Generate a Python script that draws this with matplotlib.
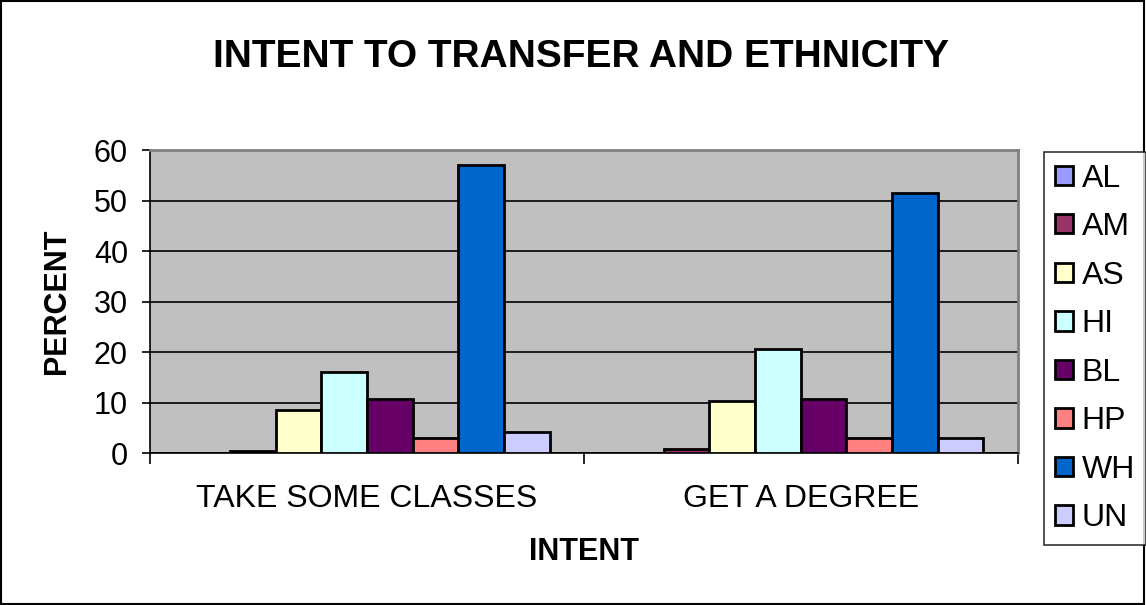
import matplotlib.pyplot as plt
import numpy as np
from matplotlib.patches import Rectangle

plt.rcParams['font.family'] = ['Liberation Sans', 'DejaVu Sans']

# percent of students by ethnicity for each transfer intent
intents = ["TAKE SOME CLASSES", "GET A DEGREE"]
groups = ["AL", "AM", "AS", "HI", "BL", "HP", "WH", "UN"]
al = [0.0, 0.0]
am = [0.5, 0.9]
as_ = [8.5, 10.4]
hi = [16.0, 20.7]
bl = [10.8, 10.8]
hp = [2.9, 2.9]
wh = [57.1, 51.4]
un = [4.2, 2.9]
series = [al, am, as_, hi, bl, hp, wh, un]
colors = ["#9999FF", "#993366", "#FFFFCC", "#CCFFFF",
          "#660066", "#FF8080", "#0066CC", "#CCCCFF"]

fig = plt.figure(figsize=(11.46, 6.05), dpi=100)
ax = fig.add_axes([0.131, 0.251, 0.757, 0.501])
ax.set_facecolor("#C0C0C0")

x = np.arange(len(intents))
w = 1 / (len(groups) + 1.5)
for i, (vals, c, g) in enumerate(zip(series, colors, groups)):
    ax.bar(x + (i - 3.5) * w, vals, w, color=c, edgecolor="black",
           linewidth=2, label=g, zorder=3)

ax.set_xlim(-0.5, 1.5)
ax.set_ylim(0, 60)
ax.set_yticks(range(0, 61, 10))
ax.yaxis.grid(True, color="black", linewidth=1.2, zorder=1)
ax.set_xticks(x)
ax.set_xticklabels(intents, fontsize=23)
ax.set_xticks([-0.5, 0.5, 1.5], minor=True)
ax.tick_params(axis="x", which="major", length=0, pad=22)
ax.tick_params(axis="x", which="minor", length=8, width=1.2, direction="out")
ax.tick_params(axis="y", labelsize=22, length=6, width=1.2, pad=10)

for s in ["top", "right"]:
    ax.spines[s].set_color("#808080")
    ax.spines[s].set_linewidth(2)
for s in ["left", "bottom"]:
    ax.spines[s].set_color("black")
    ax.spines[s].set_linewidth(1.2)

ax.set_xlabel("INTENT", fontsize=22, fontweight="bold", va="center")
ax.xaxis.set_label_coords(0.5, -0.327)
ax.set_ylabel("PERCENT", fontsize=22, fontweight="bold", va="center")
ax.yaxis.set_label_coords(-0.107, 0.5)
fig.text(0.507, 0.905, "INTENT TO TRANSFER AND ETHNICITY",
         ha="center", va="center", fontsize=28, fontweight="bold")

leg = fig.legend(loc="upper left", bbox_to_anchor=(0.911, 0.748),
                 fontsize=23, frameon=True, fancybox=False,
                 edgecolor="black", handlelength=0.55, handleheight=0.55,
                 handletextpad=0.28, labelspacing=0.58, borderpad=0.35,
                 borderaxespad=0)
leg.get_frame().set_linewidth(1.2)

# outer border around the whole chart
fig.patches.append(Rectangle((0.001, 0.002), 0.997, 0.996, transform=fig.transFigure,
                             fill=False, edgecolor="black", linewidth=1.5))

fig.savefig("out.png", dpi=100)
